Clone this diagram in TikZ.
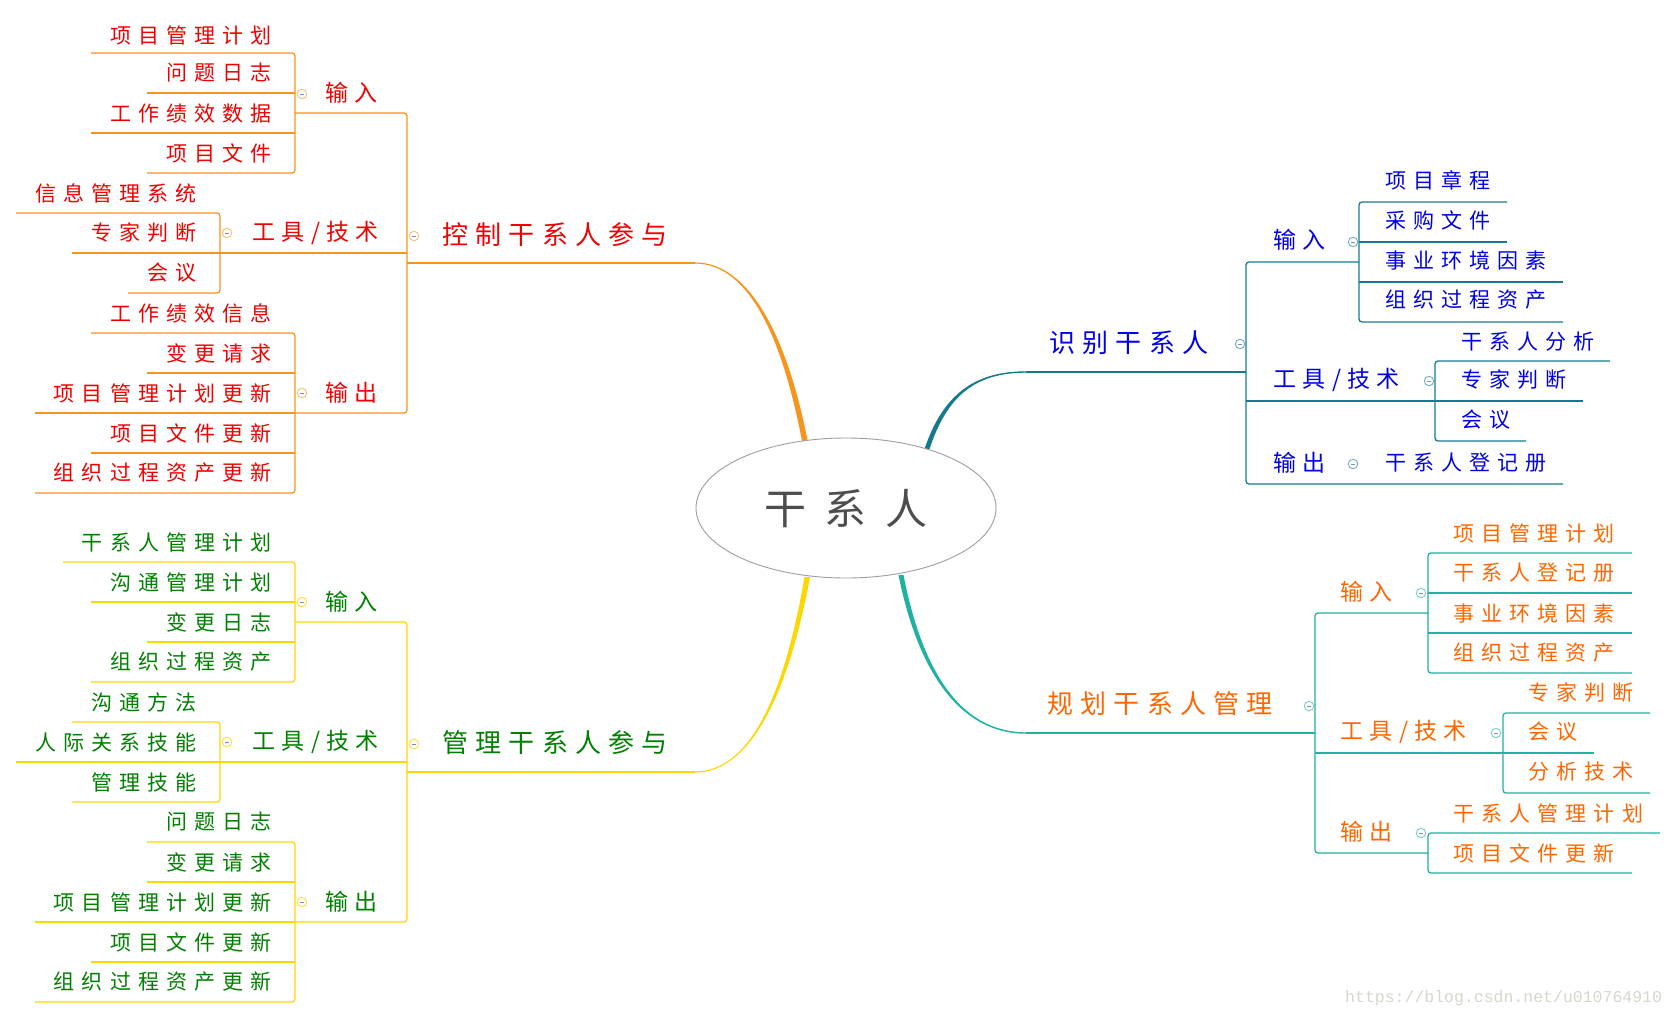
\documentclass[tikz,border=0pt]{standalone}
\usepackage{fontspec}
\usetikzlibrary{shapes.geometric}
\newfontfamily\cjkA[LetterSpace=28]{Noto Sans CJK SC}
\newfontfamily\cjkL[LetterSpace=34]{Noto Sans CJK SC}
\newfontfamily\cjkB[LetterSpace=45]{Noto Sans CJK SC}
\newfontfamily\wmfont{Liberation Mono}
\definecolor{lorange}{RGB}{247,148,29}
\definecolor{lyellow}{RGB}{255,215,0}
\definecolor{lblue}{RGB}{21,122,140}
\definecolor{lteal}{RGB}{32,178,160}
\definecolor{tred}{RGB}{240,0,0}
\definecolor{tgreen}{RGB}{0,128,0}
\definecolor{tblue}{RGB}{0,0,230}
\definecolor{torange}{RGB}{255,102,0}
\definecolor{tcenter}{RGB}{77,77,77}
\definecolor{minuscol}{RGB}{130,140,185}
\definecolor{wmcol}{RGB}{215,215,205}
\begin{document}
\begin{tikzpicture}[x=1pt,y=-1pt,
  leafT/.style={inner sep=0pt, font=\cjkL\fontsize{21}{21}\selectfont},
  subT/.style={inner sep=0pt, font=\cjkA\fontsize{23}{23}\selectfont},
  mainT/.style={inner sep=0pt, font=\cjkA\fontsize{26}{26}\selectfont},
  ln/.style={line width=1.3pt, rounded corners=3pt},
  cbox/.style={circle, draw=#1, fill=white, minimum size=9.5pt, inner sep=0pt, line width=0.9pt,
    path picture={\draw[minuscol, line width=0.8pt] ([xshift=-2.3pt]path picture bounding box.center) -- ([xshift=2.3pt]path picture bounding box.center);}}
]
\useasboundingbox (0,0) rectangle (1676,1018);
\fill[white] (0,0) rectangle (1676,1018);

% ================= TOP LEFT: 控制干系人参与 =================
\begin{scope}[every node/.append style={text=tred}]
\node[leafT, anchor=east] (a11) at (272,35) {项目管理计划};
\node[leafT, anchor=east] (a12) at (272,73) {问题日志};
\node[leafT, anchor=east] (a13) at (272,114) {工作绩效数据};
\node[leafT, anchor=east] (a14) at (272,153) {项目文件};
\node[subT, anchor=west] (a1) at (325,93) {输入};
\node[leafT, anchor=east] (a21) at (197,193) {信息管理系统};
\node[leafT, anchor=east] (a22) at (197,233) {专家判断};
\node[leafT, anchor=east] (a23) at (197,273) {会议};
\node[subT, anchor=west] (a2) at (252,233) {工具/技术};
\node[leafT, anchor=east] (a31) at (272,313) {工作绩效信息};
\node[leafT, anchor=east] (a32) at (272,353) {变更请求};
\node[leafT, anchor=east] (a33) at (272,393) {项目管理计划更新};
\node[leafT, anchor=east] (a34) at (272,433) {项目文件更新};
\node[leafT, anchor=east] (a35) at (272,473) {组织过程资产更新};
\node[subT, anchor=west] (a3) at (325,393) {输出};
\node[mainT, anchor=west] (A) at (442,235) {控制干系人参与};
\end{scope}
\begin{scope}[lorange]
\draw[ln] (91,53) -- (295,53) -- (295,173) -- (147,173);
\draw[ln] (147,93) -- (295,93);
\draw[ln] (91,133) -- (295,133);
\draw[ln] (16,213) -- (220,213) -- (220,293) -- (128,293);
\draw[ln] (72,253) -- (220,253);
\draw[ln] (91,333) -- (295,333) -- (295,493) -- (35,493);
\draw[ln] (147,373) -- (295,373);
\draw[ln] (35,413) -- (295,413);
\draw[ln] (91,453) -- (295,453);
\draw[ln] (295,113) -- (407,113) -- (407,413) -- (295,413);
\draw[ln] (220,253) -- (407,253);
\draw[ln] (407,263) -- (695,263);
\fill (695,262.4) .. controls (750,262.4) and (788,339) .. (807.8,442) -- (802.2,442) .. controls (783,341) and (750,263.6) .. (695,263.6) -- cycle;
\end{scope}
\node[cbox={lorange!60}] (ca1) at (302,94) {};
\node[cbox={lorange!60}] (ca2) at (227,233) {};
\node[cbox={lorange!60}] (ca3) at (302,393) {};
\node[cbox={lorange!60}] (cA) at (414,236) {};

% ================= BOTTOM LEFT: 管理干系人参与 =================
\begin{scope}[every node/.append style={text=tgreen}]
\node[leafT, anchor=east] (b11) at (272,542) {干系人管理计划};
\node[leafT, anchor=east] (b12) at (272,582) {沟通管理计划};
\node[leafT, anchor=east] (b13) at (272,622) {变更日志};
\node[leafT, anchor=east] (b14) at (272,662) {组织过程资产};
\node[subT, anchor=west] (b1) at (325,602) {输入};
\node[leafT, anchor=east] (b21) at (197,702) {沟通方法};
\node[leafT, anchor=east] (b22) at (197,742) {人际关系技能};
\node[leafT, anchor=east] (b23) at (197,782) {管理技能};
\node[subT, anchor=west] (b2) at (252,742) {工具/技术};
\node[leafT, anchor=east] (b31) at (272,822) {问题日志};
\node[leafT, anchor=east] (b32) at (272,862) {变更请求};
\node[leafT, anchor=east] (b33) at (272,902) {项目管理计划更新};
\node[leafT, anchor=east] (b34) at (272,942) {项目文件更新};
\node[leafT, anchor=east] (b35) at (272,982) {组织过程资产更新};
\node[subT, anchor=west] (b3) at (325,902) {输出};
\node[mainT, anchor=west] (B) at (442,743) {管理干系人参与};
\end{scope}
\begin{scope}[lyellow]
\draw[ln] (63,562) -- (295,562) -- (295,682) -- (91,682);
\draw[ln] (91,602) -- (295,602);
\draw[ln] (147,642) -- (295,642);
\draw[ln] (72,722) -- (220,722) -- (220,802) -- (72,802);
\draw[ln] (16,762) -- (220,762);
\draw[ln] (147,842) -- (295,842) -- (295,1002) -- (35,1002);
\draw[ln] (147,882) -- (295,882);
\draw[ln] (35,922) -- (295,922);
\draw[ln] (91,962) -- (295,962);
\draw[ln] (295,622) -- (407,622) -- (407,922) -- (295,922);
\draw[ln] (220,762) -- (407,762);
\draw[ln] (407,772) -- (695,772);
\fill (695,771.4) .. controls (752,771.4) and (785,690) .. (804.5,577) -- (810,577) .. controls (789,690) and (752,772.6) .. (695,772.6) -- cycle;
\end{scope}
\node[cbox={lyellow!80}] (cb1) at (302,602) {};
\node[cbox={lyellow!80}] (cb2) at (227,742) {};
\node[cbox={lyellow!80}] (cb3) at (302,902) {};
\node[cbox={lyellow!80}] (cB) at (414,744) {};

% ================= TOP RIGHT: 识别干系人 =================
\begin{scope}[every node/.append style={text=tblue}]
\node[mainT, anchor=west] (C) at (1049,343) {识别干系人};
\node[subT, anchor=west] (c1) at (1273,240) {输入};
\node[leafT, anchor=west] (c11) at (1385,180) {项目章程};
\node[leafT, anchor=west] (c12) at (1385,220) {采购文件};
\node[leafT, anchor=west] (c13) at (1385,260) {事业环境因素};
\node[leafT, anchor=west] (c14) at (1385,300) {组织过程资产};
\node[subT, anchor=west] (c2) at (1273,380) {工具/技术};
\node[leafT, anchor=west] (c21) at (1461,342) {干系人分析};
\node[leafT, anchor=west] (c22) at (1461,380) {专家判断};
\node[leafT, anchor=west] (c23) at (1461,420) {会议};
\node[subT, anchor=west] (c3) at (1273,463) {输出};
\node[leafT, anchor=west] (c31) at (1385,463) {干系人登记册};
\end{scope}
\begin{scope}[lblue]
\draw[ln] (1507,202) -- (1359,202) -- (1359,322) -- (1563,322);
\draw[ln] (1359,242) -- (1507,242);
\draw[ln] (1359,282) -- (1563,282);
\draw[ln] (1610,361) -- (1435,361) -- (1435,441) -- (1526,441);
\draw[ln] (1435,401) -- (1583,401);
\draw[ln] (1359,262) -- (1246,262) -- (1246,484) -- (1563,484);
\draw[ln] (1246,401) -- (1435,401);
\draw[ln] (1246,372) -- (1026,372);
\fill (1026,371.3) .. controls (975,371.3) and (943,394) .. (924.5,449) -- (929.5,449) .. controls (947,396) and (975,372.7) .. (1026,372.7) -- cycle;
\end{scope}
\node[cbox={lblue!60}] (cc1) at (1353,242) {};
\node[cbox={lblue!60}] (cc2) at (1429,381) {};
\node[cbox={lblue!60}] (cc3) at (1353,464) {};
\node[cbox={lblue!60}] (cC) at (1240,344) {};

% ================= BOTTOM RIGHT: 规划干系人管理 =================
\begin{scope}[every node/.append style={text=torange}]
\node[mainT, anchor=west] (D) at (1047,704) {规划干系人管理};
\node[subT, anchor=west] (d1) at (1340,592) {输入};
\node[leafT, anchor=west] (d11) at (1453,533) {项目管理计划};
\node[leafT, anchor=west] (d12) at (1453,573) {干系人登记册};
\node[leafT, anchor=west] (d13) at (1453,613) {事业环境因素};
\node[leafT, anchor=west] (d14) at (1453,653) {组织过程资产};
\node[subT, anchor=west] (d2) at (1340,732) {工具/技术};
\node[leafT, anchor=west] (d21) at (1528,692) {专家判断};
\node[leafT, anchor=west] (d22) at (1528,732) {会议};
\node[leafT, anchor=west] (d23) at (1528,772) {分析技术};
\node[subT, anchor=west] (d3) at (1340,832) {输出};
\node[leafT, anchor=west] (d31) at (1453,813) {干系人管理计划};
\node[leafT, anchor=west] (d32) at (1453,853) {项目文件更新};
\end{scope}
\begin{scope}[lteal]
\draw[ln] (1632,553) -- (1428,553) -- (1428,673) -- (1632,673);
\draw[ln] (1428,593) -- (1632,593);
\draw[ln] (1428,633) -- (1632,633);
\draw[ln] (1650,713) -- (1503,713) -- (1503,793) -- (1650,793);
\draw[ln] (1660,833) -- (1428,833) -- (1428,873) -- (1632,873);
\draw[ln] (1428,613) -- (1315,613) -- (1315,853) -- (1428,853);
\draw[ln] (1315,753) -- (1594,753);
\draw[ln] (1315,733) -- (1026,733);
\fill (1026,732.3) .. controls (960,732.3) and (922,670) .. (903.5,575) -- (898.5,575) .. controls (918,672) and (960,733.7) .. (1026,733.7) -- cycle;
\end{scope}
\node[cbox={lteal!60}] (cd1) at (1421,593) {};
\node[cbox={lteal!60}] (cd2) at (1496,733) {};
\node[cbox={lteal!60}] (cd3) at (1421,833) {};
\node[cbox={lteal!60}] (cD) at (1309,706) {};

% ================= CENTER =================
\node[ellipse, draw=black!38, line width=0.9pt, fill=white, minimum width=300pt, minimum height=140pt, inner sep=0pt] (O) at (846,508) {};
\node[inner sep=0pt, text=tcenter, font=\cjkB\fontsize{42}{42}\selectfont] (Ot) at (846,509) {干系人};

% watermark
\node[inner sep=0pt, anchor=west, text=wmcol, font=\wmfont\fontsize{16.5}{16.5}\selectfont] (wm) at (1345,998) {https://blog.csdn.net/u010764910};
\end{tikzpicture}
\end{document}
